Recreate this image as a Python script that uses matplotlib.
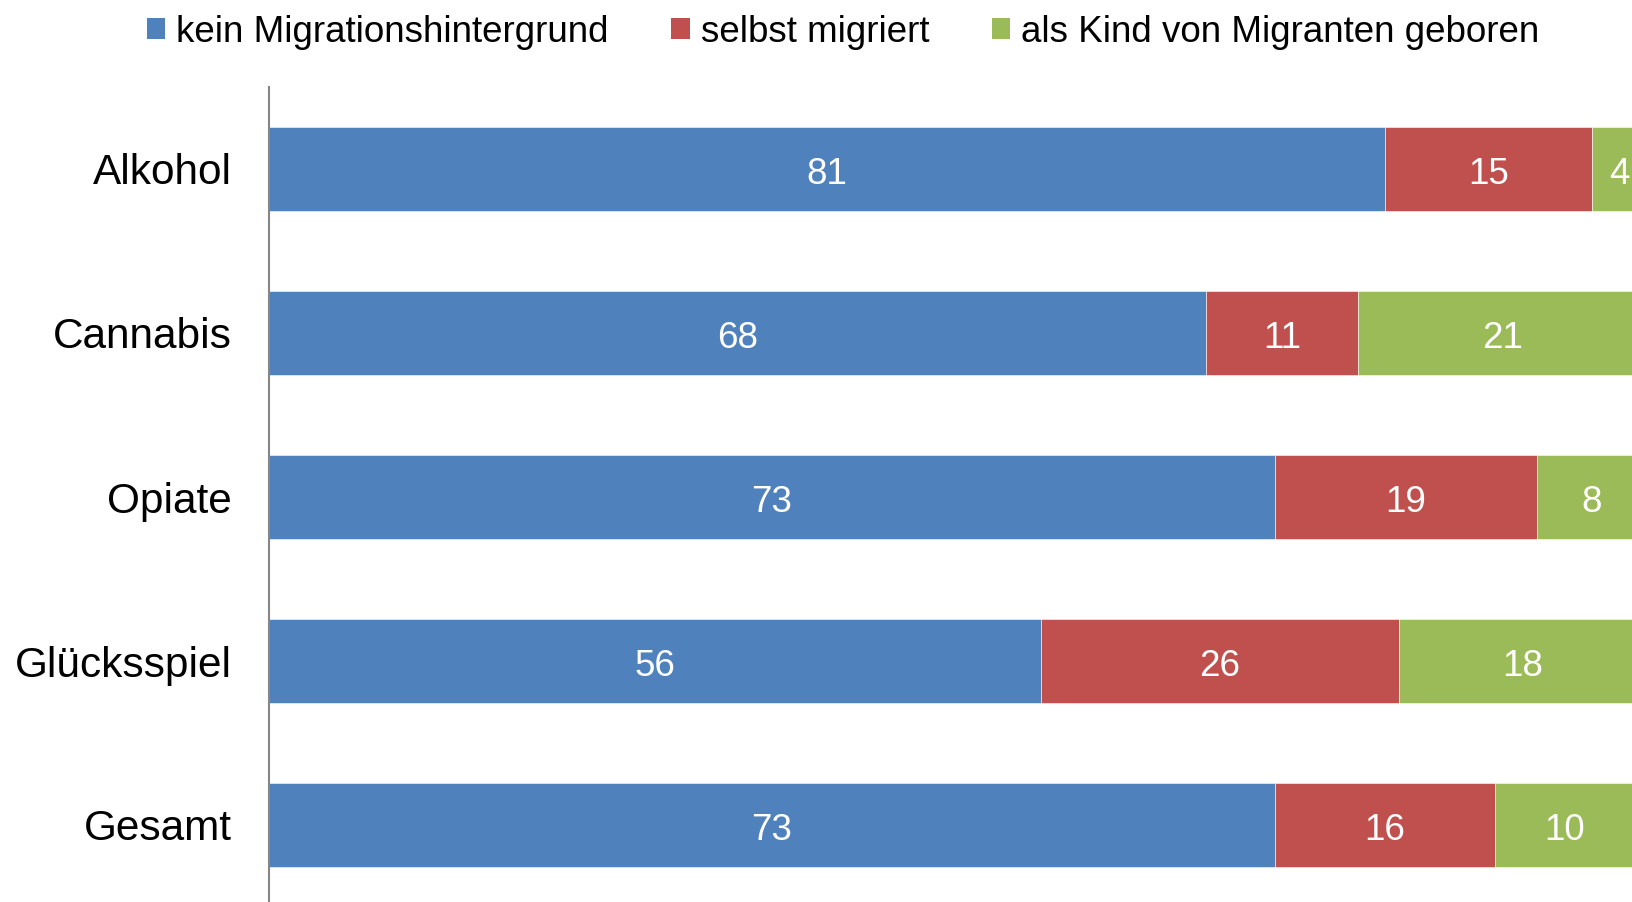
import numpy as np
import matplotlib.pyplot as plt
from matplotlib.patches import Patch

plt.rcParams['font.family'] = ['Liberation Sans', 'DejaVu Sans']

categories = ['Alkohol', 'Cannabis', 'Opiate', 'Glücksspiel', 'Gesamt']
kein_migration = [81, 68, 73, 56, 73]
selbst_migriert = [15, 11, 19, 26, 16]
kind_migranten = [4, 21, 8, 18, 10]
series_names = ['kein Migrationshintergrund', 'selbst migriert', 'als Kind von Migranten geboren']
colors = ['#4F81BD', '#C0504D', '#9BBB59']

fig = plt.figure(figsize=(16.33, 9.02), dpi=100)
# the original picture is cropped: axes run a bit past the right and bottom edge
ax = fig.add_axes([269 / 1633, -5 / 902, 1378 / 1633, 820 / 902])

y = np.arange(len(categories))
left = np.zeros(len(categories))
for vals, name, col in zip([kein_migration, selbst_migriert, kind_migranten], series_names, colors):
    vals = np.array(vals, dtype=float)
    ax.barh(y, vals, left=left, height=0.512, color=col, edgecolor='white', linewidth=0.4, label=name)
    for yi, l, v in zip(y, left, vals):
        # digits have no descenders, nudge down so they look centred
        ax.text(l + v / 2, yi + 0.035, str(int(v)), ha='center', va='center', color='white', fontsize=26.5)
    left += vals

ax.set_xlim(0, 100)
ax.set_ylim(len(categories) - 0.5, -0.5)
ax.set_yticks(y)
ax.set_yticklabels(categories, fontsize=30.5)
ax.tick_params(axis='y', length=0, pad=27)
ax.set_xticks([])
for s in ['top', 'right', 'bottom']:
    ax.spines[s].set_visible(False)
ax.spines['left'].set_color('#868686')
ax.spines['left'].set_linewidth(1.5)

handles = [Patch(facecolor=c, edgecolor='none') for c in colors]
fig.legend(handles, series_names, loc='center', bbox_to_anchor=(843 / 1633, 1 - 32 / 902),
           ncol=3, frameon=False, fontsize=26.5, handlelength=0.5, handleheight=0.5,
           handletextpad=0.3, columnspacing=1.7, borderpad=0)

fig.savefig('out.png', dpi=100)
